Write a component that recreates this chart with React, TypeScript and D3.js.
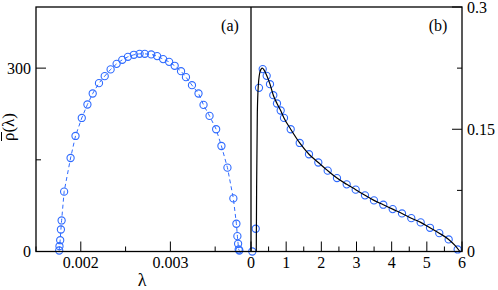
import * as d3 from 'd3';

// panel (a): eigenvalue density, circles joined by dashed line
const lamA = [
  0.001759, 0.001762, 0.00177, 0.001778, 0.001786, 0.001814, 0.001886, 0.001941,
  0.002011, 0.002074, 0.002133, 0.002203, 0.002267, 0.002333, 0.0024, 0.002463,
  0.002526, 0.002592, 0.002656, 0.002714, 0.002786, 0.002852, 0.002919, 0.002986,
  0.003048, 0.003119, 0.003174, 0.003241, 0.003314, 0.00337, 0.003437, 0.003511,
  0.00357, 0.003637, 0.003703, 0.003737, 0.003748, 0.003756, 0.003763, 0.00377,
];
const rhoA = [
  1.6, 8.7, 18.5, 36, 50.8, 97.9, 153, 189,
  218.5, 240.5, 258.5, 275.4, 286.9, 297.9, 307, 313.6,
  318.5, 321.8, 323.4, 323.4, 322.4, 319.7, 314.8, 310.3,
  303.8, 295, 285.2, 272.1, 258.5, 239.8, 221.8, 200,
  172.6, 137.2, 86.9, 45.4, 25.1, 12.6, 3.3, 1.6,
];

// panel (b): circles
const lamB = [
  0.037, 0.134, 0.227, 0.333, 0.446, 0.54, 0.634, 0.739, 0.844, 0.938,
  1.129, 1.385, 1.649, 1.914, 2.181, 2.445, 2.721, 2.977, 3.241, 3.497,
  3.762, 4.029, 4.294, 4.558, 4.825, 5.09, 5.354, 5.621, 5.877,
];
const rhoB = [
  0, 0.0279, 0.2008, 0.2238, 0.2155, 0.2053, 0.1918, 0.1816, 0.173, 0.1639,
  0.15, 0.1332, 0.1193, 0.1092, 0.0992, 0.0901, 0.0824, 0.0759, 0.0689, 0.0627,
  0.0574, 0.052, 0.0467, 0.0409, 0.0357, 0.0291, 0.0225, 0.0148, 0.0025,
];

// panel (b): black theory curve
const curveLam = [
  0.15, 0.16, 0.18, 0.21, 0.26, 0.32, 0.45, 0.54, 0.634, 0.739, 0.844, 0.938,
  1.129, 1.385, 1.649, 1.914, 2.181, 2.445, 2.721, 2.977, 3.241, 3.497,
  3.762, 4.029, 4.294, 4.558, 4.825, 5.09, 5.354, 5.621, 5.8, 5.94,
];
const curveRho = [
  0, 0.08, 0.17, 0.205, 0.221, 0.225, 0.2155, 0.2053, 0.1918, 0.1816, 0.173, 0.1639,
  0.15, 0.1332, 0.1193, 0.1092, 0.0992, 0.0901, 0.0824, 0.0759, 0.0689, 0.0627,
  0.0574, 0.052, 0.0467, 0.0409, 0.0357, 0.0291, 0.0225, 0.0148, 0.0075, 0,
];

const ticksAx = [0.002, 0.003];
const ticksAxLabels = ['0.002', '0.003'];
const minorAx = [0.0015, 0.0025, 0.0035];
const ticksAy = [0, 300];
const minorAy = [150];
const ticksBx = [0, 1, 2, 3, 4, 5, 6];
const minorBx = [0.5, 1.5, 2.5, 3.5, 4.5, 5.5];
const ticksBy = [0, 0.15, 0.3];
const ticksByLabels = ['0', '0.15', '0.3'];
const minorBy = [0.075, 0.225];

const W = 498;
const H = 290;
const top = 7;
const bottom = 251.5;
const leftA = 36;
const mid = 251;
const rightB = 462;
const blue = '#2f6bff';
const font = 'Liberation Serif';

export default function App() {
  const xA = d3.scaleLinear().domain([0.0015, 0.0039]).range([leftA, mid]);
  const yA = d3.scaleLinear().domain([0, 400]).range([bottom, top]);
  const xB = d3.scaleLinear().domain([0, 6]).range([mid, rightB]);
  const yB = d3.scaleLinear().domain([0, 0.3]).range([bottom, top]);

  const lineA = d3.line<number>()
    .x((_, i) => xA(lamA[i]))
    .y(d => yA(d));
  const lineB = d3.line<number>()
    .x((_, i) => xB(curveLam[i]))
    .y(d => yB(d))
    .curve(d3.curveMonotoneX);

  const axisColor = '#000';
  const txt = { fontFamily: font, fontSize: 16, fill: '#000' };

  return (
    <svg width={W} height={H} style={{ position: 'absolute', left: 0, top: 0 }}>
      <rect x={0} y={0} width={W} height={H} fill="#fff" />

      {/* panel (a) data */}
      <path d={lineA(rhoA) || ''} fill="none" stroke={blue} strokeWidth={1} strokeDasharray="4,3" />
      {rhoA.map((d, i) => (
        <circle key={'a' + i} cx={xA(lamA[i])} cy={yA(d)} r={3.6} fill="none" stroke={blue} strokeWidth={1.1} />
      ))}

      {/* panel (b) data */}
      {rhoB.map((d, i) => (
        <circle key={'b' + i} cx={xB(lamB[i])} cy={yB(d)} r={3.6} fill="none" stroke={blue} strokeWidth={1.1} />
      ))}
      <path d={lineB(curveRho) || ''} fill="none" stroke="#000" strokeWidth={1.2} />

      {/* frames */}
      <rect x={leftA} y={top} width={rightB - leftA} height={bottom - top} fill="none" stroke={axisColor} strokeWidth={1.3} />
      <line x1={mid} x2={mid} y1={top} y2={bottom} stroke={axisColor} strokeWidth={1.3} />

      {/* panel (a) ticks */}
      {ticksAx.map(t => (
        <line key={'tax' + t} x1={xA(t)} x2={xA(t)} y1={bottom} y2={bottom - 10} stroke={axisColor} strokeWidth={1} />
      ))}
      {minorAx.map(t => (
        <line key={'max' + t} x1={xA(t)} x2={xA(t)} y1={bottom} y2={bottom - 5} stroke={axisColor} strokeWidth={1} />
      ))}
      {ticksAy.map(t => (
        <line key={'tay' + t} x1={leftA} x2={leftA + 10} y1={yA(t)} y2={yA(t)} stroke={axisColor} strokeWidth={1} />
      ))}
      {minorAy.map(t => (
        <line key={'may' + t} x1={leftA} x2={leftA + 5} y1={yA(t)} y2={yA(t)} stroke={axisColor} strokeWidth={1} />
      ))}
      {ticksAx.map((t, i) => (
        <text key={'lax' + t} x={xA(t)} y={268} textAnchor="middle" {...txt}>{ticksAxLabels[i]}</text>
      ))}
      {ticksAy.map(t => (
        <text key={'lay' + t} x={31} y={yA(t) + 5.5} textAnchor="end" {...txt}>{t}</text>
      ))}

      {/* panel (b) ticks */}
      {ticksBx.map(t => (
        <line key={'tbx' + t} x1={xB(t)} x2={xB(t)} y1={bottom} y2={bottom - 10} stroke={axisColor} strokeWidth={1} />
      ))}
      {minorBx.map(t => (
        <line key={'mbx' + t} x1={xB(t)} x2={xB(t)} y1={bottom} y2={bottom - 5} stroke={axisColor} strokeWidth={1} />
      ))}
      {ticksBy.map(t => (
        <line key={'tby' + t} x1={rightB} x2={rightB - 10} y1={yB(t)} y2={yB(t)} stroke={axisColor} strokeWidth={1} />
      ))}
      {minorBy.map(t => (
        <line key={'mby' + t} x1={rightB} x2={rightB - 5} y1={yB(t)} y2={yB(t)} stroke={axisColor} strokeWidth={1} />
      ))}
      {ticksBx.map(t => (
        <text key={'lbx' + t} x={xB(t)} y={268} textAnchor="middle" {...txt}>{t}</text>
      ))}
      {ticksBy.map((t, i) => (
        <text key={'lby' + t} x={467} y={yB(t) + 5.5} textAnchor="start" {...txt}>{ticksByLabels[i]}</text>
      ))}

      {/* panel labels */}
      <text x={230} y={31} textAnchor="middle" {...txt}>(a)</text>
      <text x={438} y={31} textAnchor="middle" {...txt}>(b)</text>

      {/* axis titles */}
      <text x={142} y={286} textAnchor="middle" {...txt} fontSize={18}>λ</text>
      <g transform="translate(14,127) rotate(-90)">
        <text x={0} y={0} textAnchor="middle" {...txt} fontSize={17}>ρ(λ)</text>
        <line x1={-14} x2={-5} y1={-12.5} y2={-12.5} stroke="#000" strokeWidth={1} />
      </g>
    </svg>
  );
}
